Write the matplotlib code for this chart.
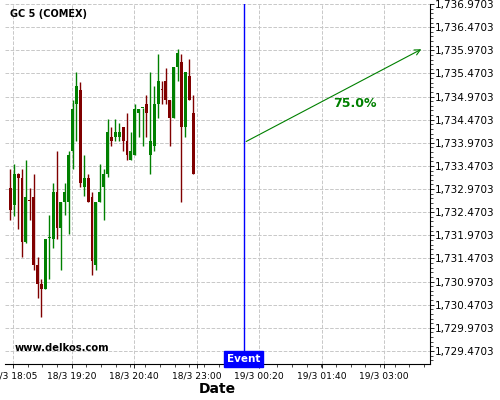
import matplotlib
matplotlib.use("Agg")
import matplotlib.pyplot as plt
from matplotlib.ticker import FuncFormatter, AutoMinorLocator, FixedLocator
import numpy as np

# 5-minute candles, GC 5 (COMEX)
opens = [1732.997, 1732.617, 1733.299, 1733.220, 1731.820, 1732.715, 1732.804, 1731.325,
         1730.915, 1730.807, 1731.910, 1731.899, 1732.911, 1732.121, 1732.696, 1732.696,
         1733.802, 1734.814, 1735.109, 1733.005, 1733.220, 1732.804, 1731.325, 1732.696,
         1733.005, 1733.299, 1734.096, 1734.096, 1734.096, 1734.312, 1734.010, 1733.601,
         1733.709, 1734.613, 1734.716, 1734.814, 1733.709, 1733.902, 1734.814, 1735.125,
         1735.302, 1734.893, 1734.505, 1735.604, 1735.712, 1734.312, 1735.410, 1734.613]
highs = [1733.400, 1733.515, 1733.313, 1733.400, 1733.601, 1732.990, 1733.292, 1731.504,
         1731.016, 1731.899, 1732.401, 1733.098, 1733.795, 1732.696, 1733.098, 1733.795,
         1734.893, 1735.497, 1735.295, 1733.709, 1733.292, 1732.911, 1732.696, 1733.515,
         1733.400, 1734.491, 1734.304, 1734.491, 1734.391, 1734.312, 1734.606, 1734.204,
         1734.800, 1734.699, 1734.721, 1734.994, 1735.497, 1735.195, 1735.899, 1735.302,
         1735.597, 1734.893, 1735.604, 1735.992, 1735.899, 1735.497, 1735.791, 1734.994]
lows = [1732.308, 1732.394, 1732.107, 1731.504, 1731.806, 1732.308, 1731.210, 1730.606,
        1730.211, 1730.800, 1731.016, 1731.698, 1731.892, 1731.210, 1732.416, 1731.999,
        1733.400, 1734.010, 1733.005, 1732.811, 1732.696, 1731.102, 1731.210, 1732.696,
        1732.308, 1733.227, 1733.902, 1734.010, 1734.010, 1733.795, 1733.601, 1733.601,
        1733.709, 1734.103, 1733.902, 1734.096, 1733.292, 1733.795, 1734.498, 1734.814,
        1734.800, 1733.902, 1734.505, 1735.302, 1732.689, 1734.096, 1734.893, 1733.299]
closes = [1732.509, 1733.299, 1733.220, 1731.820, 1732.804, 1732.710, 1731.325, 1730.915,
          1730.807, 1731.899, 1731.915, 1732.911, 1732.121, 1732.696, 1732.911, 1733.709,
          1734.699, 1735.195, 1733.112, 1733.220, 1732.696, 1731.411, 1732.696, 1732.911,
          1733.299, 1734.204, 1734.010, 1734.204, 1734.204, 1734.010, 1733.709, 1733.795,
          1734.699, 1734.699, 1734.721, 1734.613, 1734.010, 1734.814, 1735.302, 1735.120,
          1734.893, 1734.505, 1735.604, 1735.906, 1734.312, 1735.497, 1734.893, 1733.299]

tick_pos = [0.7, 15.8, 31.8, 47.9, 63.9, 80.1, 96.0]
tick_labels = ["18/3 18:05", "18/3 19:20", "18/3 20:40", "18/3 23:00",
               "19/3 00:20", "19/3 01:40", "19/3 03:00"]
yticks = [1729.4703 + 0.5 * k for k in range(16)]

event_x = 60
arrow_start = (60, 1733.97)
arrow_end = (106.3, 1736.02)
prob_text = "75.0%"

fig = plt.figure(figsize=(5, 4), dpi=100)
ax = fig.add_axes([0.01, 0.09, 0.85, 0.90])

up, down = "#008000", "#800000"
for i in range(len(opens)):
    col = up if closes[i] >= opens[i] else down
    ax.vlines(i, lows[i], highs[i], color=col, lw=1)
    lo, hi = min(opens[i], closes[i]), max(opens[i], closes[i])
    ax.bar(i, max(hi - lo, 0.02), bottom=lo, width=0.75, color=col, edgecolor=col, lw=0)

ax.axvline(event_x, color="blue", lw=1)
ax.annotate("", xy=arrow_end, xytext=arrow_start,
            arrowprops=dict(arrowstyle="->", color="#008000", lw=0.8))
ax.text(88.5, 1734.81, prob_text, color="#008000", fontsize=9, fontweight="bold",
        ha="center", va="center")

ax.set_xlim(-1.36, 107.9)
ax.set_ylim(1729.189, 1736.9703)

ax.yaxis.tick_right()
ax.yaxis.set_major_locator(FixedLocator(yticks))
ax.yaxis.set_major_formatter(FuncFormatter(lambda v, p: f"{v:,.4f}"))
ax.yaxis.set_minor_locator(AutoMinorLocator(5))
ax.xaxis.set_major_locator(FixedLocator(tick_pos))
ax.set_xticklabels(tick_labels)
ax.xaxis.set_minor_locator(AutoMinorLocator(4))
ax.tick_params(length=3, width=0.6, colors="black")
ax.tick_params(axis="y", labelsize=7.5, pad=0.5)
ax.tick_params(axis="x", labelsize=6.6, pad=2.5)
ax.tick_params(which="minor", length=2, width=0.5)

ax.grid(True, which="major", color="#c8c8c8", ls="--", lw=0.7)
ax.set_axisbelow(True)
for s in ["left", "top"]:
    ax.spines[s].set_visible(False)

ax.set_xlabel("Date", fontsize=10, fontweight="bold", labelpad=1)

ax.text(0.012, 0.985, "GC 5 (COMEX)", transform=ax.transAxes, fontsize=7,
        fontweight="bold", va="top", ha="left")
ax.text(0.023, 0.03, "www.delkos.com", transform=ax.transAxes, fontsize=7.2,
        fontweight="bold", va="bottom", ha="left")
ax.text(event_x, 1729.189, "Event", color="white", fontsize=7.5, fontweight="bold",
        ha="center", va="bottom",
        bbox=dict(boxstyle="square,pad=0.25", fc="blue", ec="blue"))

fig.savefig("out.png", dpi=100)
